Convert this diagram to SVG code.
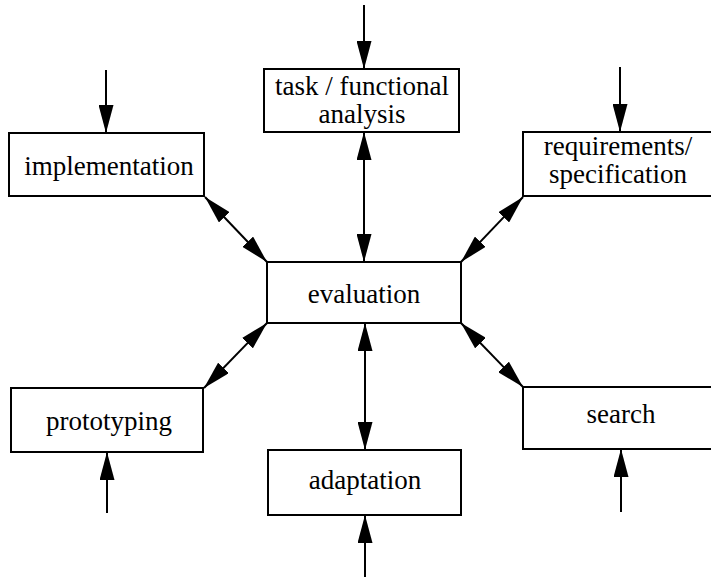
<svg xmlns="http://www.w3.org/2000/svg" width="711" height="578" viewBox="0 0 711 578">
<defs>
<marker id="ah" viewBox="0 0 28 15" refX="28" refY="7.5" markerWidth="28" markerHeight="15" markerUnits="userSpaceOnUse" orient="auto-start-reverse">
<path d="M0,0 L28,7.5 L0,15 Z" fill="#000"/>
</marker>
</defs>
<style>
.box{fill:#fff;stroke:#000;stroke-width:2}
.lbl{font-family:'Liberation Serif','Times New Roman',serif;font-size:27px;fill:#000;text-anchor:middle}
.c{stroke:#000;stroke-width:2;fill:none}
.one{marker-end:url(#ah)}
.two{marker-start:url(#ah);marker-end:url(#ah)}
</style>
<g id="connectors">
<line class="c one" x1="364" y1="5" x2="364" y2="69"/>
<line class="c one" x1="106" y1="70" x2="106" y2="133"/>
<line class="c one" x1="620" y1="67" x2="620" y2="132"/>
<line class="c one" x1="107" y1="513" x2="107" y2="452"/>
<line class="c one" x1="621" y1="512" x2="621" y2="449"/>
<line class="c one" x1="365" y1="577" x2="365" y2="515"/>
<line class="c two" x1="364" y1="132" x2="364" y2="262"/>
<line class="c two" x1="365" y1="323" x2="365" y2="450"/>
<line class="c two" x1="205" y1="197" x2="267" y2="262"/>
<line class="c two" x1="523" y1="197" x2="461" y2="262"/>
<line class="c two" x1="204" y1="388" x2="267" y2="323"/>
<line class="c two" x1="523" y1="387" x2="461" y2="323"/>
</g>
<g id="task">
<rect class="box" x="264" y="69" width="195" height="63"/>
<text class="lbl" x="362" y="95">task / functional</text>
<text class="lbl" x="362" y="123">analysis</text>
</g>
<g id="implementation">
<rect class="box" x="9" y="133" width="195" height="63"/>
<text class="lbl" x="109" y="175">implementation</text>
</g>
<g id="requirements">
<rect class="box" x="523" y="132" width="195" height="64"/>
<text class="lbl" x="618" y="155">requirements/</text>
<text class="lbl" x="618" y="183">specification</text>
</g>
<g id="evaluation">
<rect class="box" x="267" y="262" width="194" height="61"/>
<text class="lbl" x="364" y="303">evaluation</text>
</g>
<g id="prototyping">
<rect class="box" x="11" y="388" width="192" height="64"/>
<text class="lbl" x="109" y="430">prototyping</text>
</g>
<g id="search">
<rect class="box" x="523" y="387" width="195" height="62"/>
<text class="lbl" x="621" y="423">search</text>
</g>
<g id="adaptation">
<rect class="box" x="268" y="450" width="193" height="65"/>
<text class="lbl" x="365" y="489">adaptation</text>
</g>
</svg>
